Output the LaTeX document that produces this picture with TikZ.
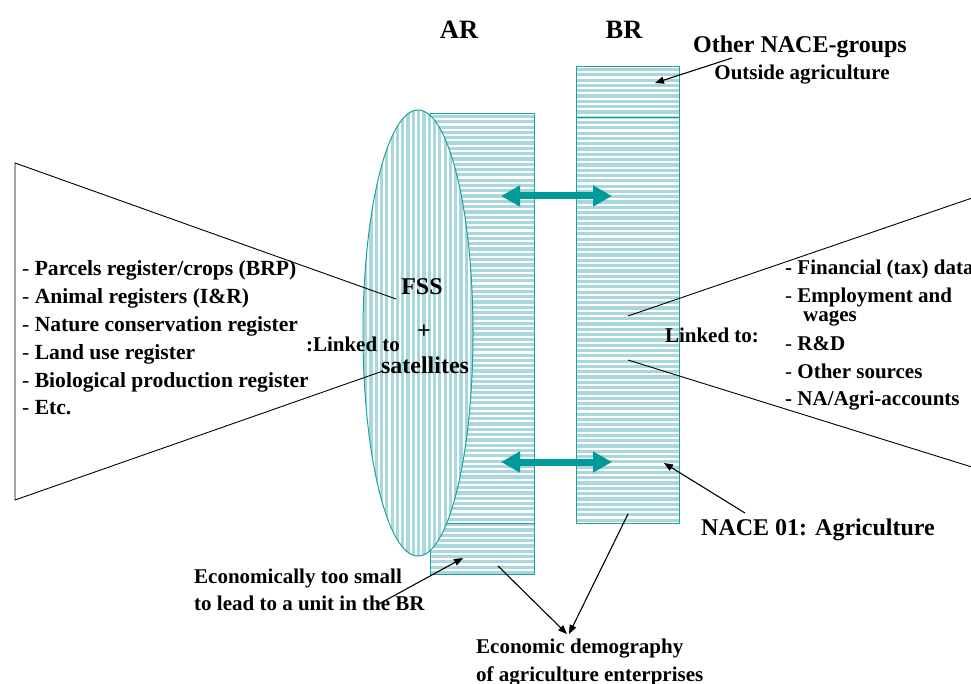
\documentclass[tikz,border=0pt]{standalone}
\usepackage{fontspec}
\setmainfont{Liberation Serif}
\usetikzlibrary{arrows.meta}
\definecolor{tealline}{HTML}{1BA3A3}
\definecolor{tealarrow}{HTML}{009A9A}
\definecolor{stripe}{HTML}{A9D7DB}
\begin{document}
\begin{tikzpicture}[x=1pt,y=-1pt,
  txt/.style={font=\fontsize{21}{25}\selectfont, inner sep=0pt},
  ltxt/.style={font=\fontsize{21.6}{25}\selectfont, inner sep=0pt},
  btxt/.style={font=\bfseries\fontsize{21}{25}\selectfont, inner sep=0pt},
  bigtxt/.style={font=\bfseries\fontsize{24}{28}\selectfont, inner sep=0pt},
  hdtxt/.style={font=\bfseries\fontsize{26.5}{30}\selectfont, inner sep=0pt},
  outline/.style={draw=tealline, line width=1pt},
  thin/.style={draw=black, line width=0.9pt},
  pointer/.style={draw=black, line width=1.1pt, -{Triangle[length=9pt,width=7pt]}},
  linkarrow/.style={draw=tealarrow, line width=7pt,
     {Triangle[length=19pt,width=20pt]}-{Triangle[length=19pt,width=20pt]}}]
\useasboundingbox (0,0) rectangle (971,684);

% AR rectangle
\begin{scope}
  \clip (430,114) rectangle (534,574);
  \foreach \y in {115,120.3,...,580} \fill[stripe] (430,\y) rectangle (534,\y+3.2);
\end{scope}
\draw[outline] (430,114) rectangle (534,574);
\draw[outline] (430,523) -- (534,523);

% BR rectangle
\begin{scope}
  \clip (576,67) rectangle (679,523);
  \foreach \y in {68,73.3,...,530} \fill[stripe] (576,\y) rectangle (679,\y+3.2);
\end{scope}
\draw[outline] (576,67) rectangle (679,523);
\draw[outline] (576,118) -- (679,118);

% FSS ellipse
\fill[white] (418,333) ellipse [x radius=55pt, y radius=223pt];
\begin{scope}
  \clip (418,333) ellipse [x radius=55pt, y radius=223pt];
  \foreach \x in {364,369.3,...,475} \fill[stripe] (\x,100) rectangle (\x+3.2,560);
\end{scope}
\draw[outline] (418,333) ellipse [x radius=55pt, y radius=223pt];

% link arrows
\coordinate (la1) at (501,196);
\coordinate (ra1) at (612,196);
\coordinate (la2) at (501,462);
\coordinate (ra2) at (612,462);
\draw[linkarrow] (la1) -- (ra1);
\draw[linkarrow] (la2) -- (ra2);

% left funnel
\coordinate (lt) at (15,163);
\coordinate (lb) at (15,500);
\coordinate (lte) at (396,299);
\coordinate (lbe) at (383,371);
\draw[thin] (lte) -- (lt) -- (lb) -- (lbe);

% right funnel
\coordinate (rt) at (628,316);
\coordinate (rb) at (628,360);
\coordinate (rte) at (975,197);
\coordinate (rbe) at (975,468);
\draw[thin] (rt) -- (rte);
\draw[thin] (rb) -- (rbe);

% headings
\node[hdtxt, anchor=base] (ar) at (459,39) {AR};
\node[hdtxt, anchor=base] (br) at (624,39) {BR};
\node[bigtxt, anchor=base] (other) at (800,53) {Other NACE-groups};
\node[btxt, anchor=base] (outside) at (802,80) {Outside agriculture};

% ellipse texts
\node[bigtxt, anchor=base] (fss) at (422,295) {FSS};
\node[bigtxt] (plus) at (424,332) {+};
\node[btxt, anchor=base] (linkl) at (353,351) {:Linked to};
\node[bigtxt, anchor=base] (sat) at (425,373) {satellites};

% left list
\node[ltxt, anchor=base west] (l1) at (22,276) {- \textbf{Parcels register/crops (BRP)}};
\node[ltxt, anchor=base west] (l2) at (22,304) {- \textbf{Animal registers (I\&R)}};
\node[ltxt, anchor=base west] (l3) at (22,331) {- \textbf{Nature conservation register}};
\node[ltxt, anchor=base west] (l4) at (22,359) {- \textbf{Land use register}};
\node[ltxt, anchor=base west] (l5) at (22,387) {- \textbf{Biological production register}};
\node[ltxt, anchor=base west] (l6) at (22,414) {- \textbf{Etc.}};

% right list
\node[btxt, anchor=base] (linkr) at (712,342) {Linked to:};
\node[btxt, anchor=base west] (r1) at (785,275) {- Financial (tax) data};
\node[txt, anchor=base west] (r2) at (785,302) {- \textbf{Employment and}};
\node[btxt, anchor=base west] (r2b) at (803,322) {wages};
\node[txt, anchor=base west] (r3) at (785,350) {- \textbf{R\&D}};
\node[txt, anchor=base west] (r4) at (785,378) {- \textbf{Other sources}};
\node[btxt, anchor=base west] (r5) at (785,405) {- NA/Agri-accounts};

% bottom labels
\node[bigtxt, anchor=base] (nace) at (818,535) {NACE 01: Agriculture};
\node[btxt, anchor=base west] (small1) at (194,583) {Economically too small};
\node[btxt, anchor=base west] (small2) at (194,610) {to lead to a unit in the BR};
\node[btxt, anchor=base west] (demo1) at (476,653) {Economic demography};
\node[btxt, anchor=base west] (demo2) at (476,681) {of agriculture enterprises};

% pointers
\coordinate (p1s) at (732,58);   \coordinate (p1e) at (655,83);
\coordinate (p2s) at (745,513);  \coordinate (p2e) at (664,463);
\coordinate (p3s) at (377,605);  \coordinate (p3e) at (463,558);
\coordinate (p4s) at (498,566);  \coordinate (p4e) at (567,634);
\coordinate (p5s) at (628,514);  \coordinate (p5e) at (569,634);
\draw[pointer] (p1s) -- (p1e);
\draw[pointer] (p2s) -- (p2e);
\draw[pointer] (p3s) -- (p3e);
\draw[pointer] (p4s) -- (p4e);
\draw[pointer] (p5s) -- (p5e);
\end{tikzpicture}
\end{document}
